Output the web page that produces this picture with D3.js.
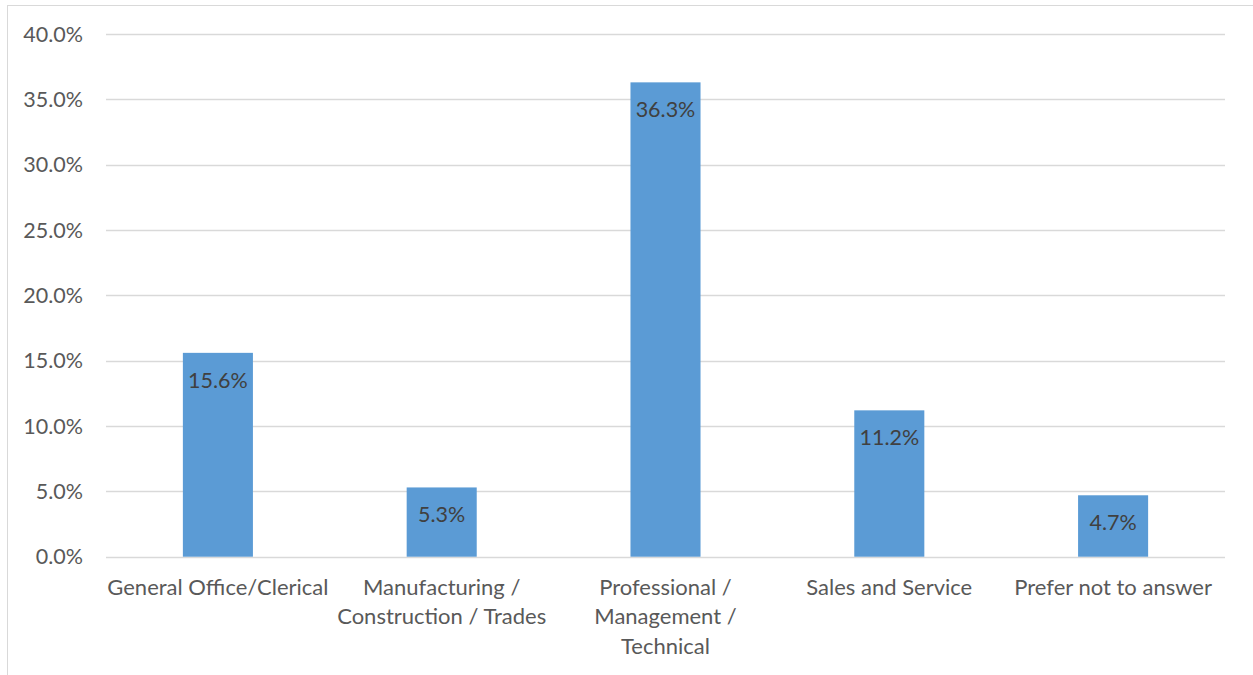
<!DOCTYPE html>
<html><head><meta charset="utf-8">
<script src="https://cdn.jsdelivr.net/npm/d3@7"></script>
<style>body{margin:0;background:#fff}svg{display:block}text{font-family:Lato,"Open Sans",sans-serif}</style>
</head><body><svg id="c" width="1253" height="675"></svg>
<script>
const categories = [
  ["General Office/Clerical"],
  ["Manufacturing /", "Construction / Trades"],
  ["Professional /", "Management /", "Technical"],
  ["Sales and Service"],
  ["Prefer not to answer"]
];
const values = [15.6, 5.3, 36.3, 11.2, 4.7];
const yTicks = [0, 5, 10, 15, 20, 25, 30, 35, 40];

(function(){
const svg = d3.select("#c");
const pLeft = 106, pRight = 1225, pTop = 34, pBottom = 556.7;
const FS = 21.5, FC = 22;

svg.append("rect").attr("x", 7.5).attr("y", 5.5).attr("width", 1260).attr("height", 700)
  .attr("fill", "none").attr("stroke", "#d9d9d9").attr("stroke-width", 1);

const keys = categories.map((c, i) => i);
const x = d3.scaleBand().domain(keys).range([pLeft, pRight]).paddingInner(0.687).paddingOuter(0.3435);
const y = d3.scaleLinear().domain([0, 40]).range([pBottom, pTop]);

svg.append("g").selectAll("line").data(yTicks).join("line")
  .attr("x1", pLeft).attr("x2", pRight)
  .attr("y1", d => Math.round(y(d)) + 0.5).attr("y2", d => Math.round(y(d)) + 0.5)
  .attr("stroke", "#d9d9d9").attr("stroke-width", 1.3);

svg.append("g").selectAll("text").data(yTicks).join("text")
  .attr("x", 83).attr("y", d => y(d)).attr("dy", "0.36em")
  .attr("text-anchor", "end").attr("fill", "#595959").attr("font-size", FS)
  .text(d => d.toFixed(1) + "%");

svg.append("g").selectAll("rect").data(values).join("rect")
  .attr("x", (d, i) => x(i)).attr("width", x.bandwidth())
  .attr("y", d => y(d)).attr("height", d => y(0) - y(d))
  .attr("fill", "#5b9bd5");

svg.append("g").selectAll("text").data(values).join("text")
  .attr("x", (d, i) => x(i) + x.bandwidth() / 2).attr("y", d => y(d) + 35)
  .attr("text-anchor", "middle").attr("fill", "#404040").attr("font-size", FS)
  .text(d => d.toFixed(1) + "%");

const cl = svg.append("g").selectAll("text").data(categories).join("text")
  .attr("text-anchor", "middle").attr("fill", "#595959").attr("font-size", FC)
  .attr("x", (d, i) => x(i) + x.bandwidth() / 2);
cl.each(function(d, i) {
  d3.select(this).selectAll("tspan").data(d).join("tspan")
    .attr("x", x(i) + x.bandwidth() / 2)
    .attr("y", (t, j) => 594.5 + j * 29.5)
    .text(t => t);
});
})();
</script></body></html>
